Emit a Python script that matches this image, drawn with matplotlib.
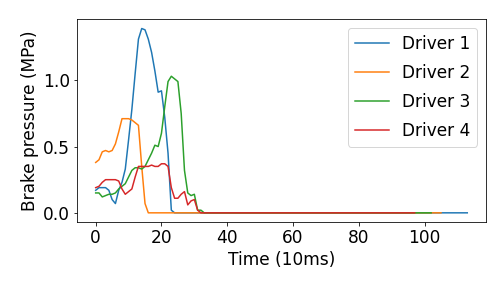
import matplotlib
matplotlib.use("Agg")
import matplotlib.pyplot as plt
import numpy as np

# Brake pressure (MPa) per 10 ms sample; trailing samples are read as 0.0
driver1_head = [0.17, 0.19, 0.19, 0.19, 0.17, 0.10, 0.07, 0.17, 0.23, 0.33,
                0.55, 0.78, 1.05, 1.31, 1.39, 1.38, 1.31, 1.21, 1.07, 0.91,
                0.92, 0.72, 0.45, 0.02]
driver1_len = 114

driver2_head = [0.38, 0.40, 0.46, 0.47, 0.46, 0.47, 0.52, 0.61, 0.71, 0.71,
                0.71, 0.70, 0.68, 0.66, 0.35, 0.07]
driver2_len = 106

driver3_head = [0.15, 0.15, 0.12, 0.13, 0.14, 0.14, 0.15, 0.18, 0.20, 0.22,
                0.27, 0.32, 0.34, 0.34, 0.33, 0.35, 0.40, 0.45, 0.51, 0.50,
                0.60, 0.80, 0.99, 1.03, 1.01, 0.99, 0.75, 0.32, 0.15, 0.13,
                0.14, 0.02, 0.02]
driver3_len = 103

driver4_head = [0.19, 0.20, 0.23, 0.25, 0.25, 0.25, 0.25, 0.24, 0.18, 0.14,
                0.16, 0.18, 0.27, 0.35, 0.35, 0.35, 0.35, 0.36, 0.35, 0.35,
                0.37, 0.37, 0.35, 0.19, 0.11, 0.11, 0.14, 0.16, 0.06, 0.09,
                0.10, 0.02]
driver4_len = 98

labels = ["Driver 1", "Driver 2", "Driver 3", "Driver 4"]


def pad(head, n):
    return head + [0.0] * (n - len(head))


series = [pad(driver1_head, driver1_len), pad(driver2_head, driver2_len),
          pad(driver3_head, driver3_len), pad(driver4_head, driver4_len)]

fig = plt.figure(figsize=(7, 4), dpi=72)
ax = fig.add_axes([0.153, 0.229, 0.811, 0.704])
for s, lab in zip(series, labels):
    ax.plot(np.arange(len(s)), s, label=lab, linewidth=1.5)

fs = 17
ax.set_xlabel("Time (10ms)", fontsize=fs)
ax.set_ylabel("Brake pressure (MPa)", fontsize=fs)
ax.tick_params(labelsize=fs)
ax.set_xticks([0, 20, 40, 60, 80, 100])
ax.set_yticks([0.0, 0.5, 1.0])
ax.legend(loc="upper right", fontsize=fs, labelspacing=0.65)
fig.savefig("out.png", dpi=72)
